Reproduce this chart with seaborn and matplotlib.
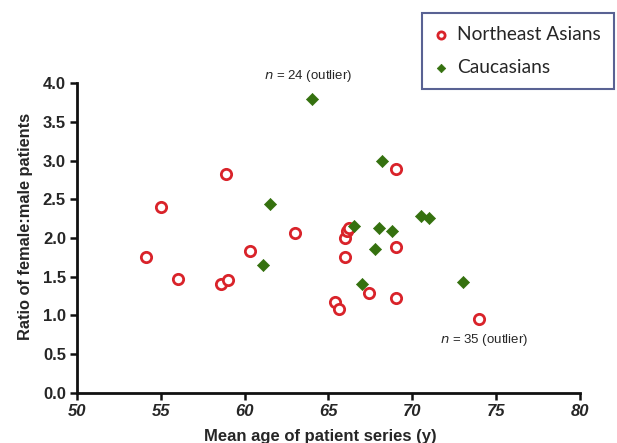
import pandas as pd
import matplotlib.pyplot as plt
import seaborn as sns

# Northeast Asians (open red circles)
asian_age = [54.1, 55.0, 56.0, 58.6, 59.0, 58.9, 60.3, 63.0, 65.4, 65.6,
             66.0, 66.0, 66.1, 66.2, 67.4, 69.0, 69.0, 69.0, 74.0]
asian_ratio = [1.75, 2.40, 1.47, 1.40, 1.46, 2.83, 1.83, 2.07, 1.18, 1.08,
               1.75, 2.00, 2.09, 2.13, 1.29, 1.22, 2.89, 1.88, 0.95]

# Caucasians (green diamonds)
cauc_age = [64.0, 61.5, 61.1, 68.2, 66.5, 68.0, 68.8, 70.5, 71.0, 67.8, 67.0, 73.0]
cauc_ratio = [3.80, 2.44, 1.65, 3.00, 2.16, 2.13, 2.09, 2.29, 2.26, 1.86, 1.40, 1.43]

red = '#d9232a'
green = '#35710f'

df_a = pd.DataFrame({'age': asian_age, 'ratio': asian_ratio})
df_c = pd.DataFrame({'age': cauc_age, 'ratio': cauc_ratio})

sns.set_style('ticks')
plt.rcParams['font.family'] = ['Liberation Sans', 'DejaVu Sans']

fig = plt.figure(figsize=(6.17, 4.43), dpi=100)
ax = fig.add_axes([0.1248, 0.1129, 0.8152, 0.6997])

sns.scatterplot(data=df_a, x='age', y='ratio', ax=ax, marker='o', s=55,
                facecolor='white', edgecolor=red, linewidth=2,
                label='Northeast Asians', zorder=3)
sns.scatterplot(data=df_c, x='age', y='ratio', ax=ax, marker='D', s=38,
                color=green, edgecolor=green, linewidth=0.5,
                label='Caucasians', zorder=3)

ax.set_xlim(50, 80)
ax.set_ylim(0, 4)
ax.set_xticks([50, 55, 60, 65, 70, 75, 80])
ax.set_yticks([0, 0.5, 1.0, 1.5, 2.0, 2.5, 3.0, 3.5, 4.0])
ax.set_yticklabels([f'{v:.1f}' for v in ax.get_yticks()])
sns.despine(ax=ax)
for s in ['left', 'bottom']:
    ax.spines[s].set_linewidth(2)
    ax.spines[s].set_color('#111111')
ax.tick_params(axis='both', width=1.8, length=5, color='#111111', pad=3)
for lab in ax.get_yticklabels():
    lab.set_fontweight('bold')
    lab.set_fontsize(12)
for lab in ax.get_xticklabels():
    lab.set_fontweight('bold')
    lab.set_fontstyle('italic')
    lab.set_fontsize(12)

ax.set_xlabel('Mean age of patient series (y)', fontsize=12, fontweight='bold', labelpad=7)
ax.xaxis.set_label_coords(0.483, -0.115)
ax.set_ylabel('Ratio of female:male patients', fontsize=11.8, fontweight='bold')
ax.yaxis.set_label_coords(-0.088, 0.537)

ax.text(63.75, 4.085, r'$n$ = 24 (outlier)', fontsize=9.5, ha='center', va='center',
        clip_on=False)
ax.text(74.25, 0.69, r'$n$ = 35 (outlier)', fontsize=9.5, ha='center', va='center')

handles, labels = ax.get_legend_handles_labels()
ax.legend_.remove()
leg = fig.legend(handles, labels, loc='upper right', bbox_to_anchor=(0.995, 0.971),
                 prop={'family': 'Lato', 'size': 13.8}, frameon=True, fancybox=False,
                 borderpad=0.7, handlelength=0.56, handletextpad=0.55,
                 labelspacing=0.8, borderaxespad=0, markerscale=0.7)
leg.get_frame().set_edgecolor('#2f3b78')
leg.get_frame().set_linewidth(1.5)

plt.savefig('out.png', dpi=100)
